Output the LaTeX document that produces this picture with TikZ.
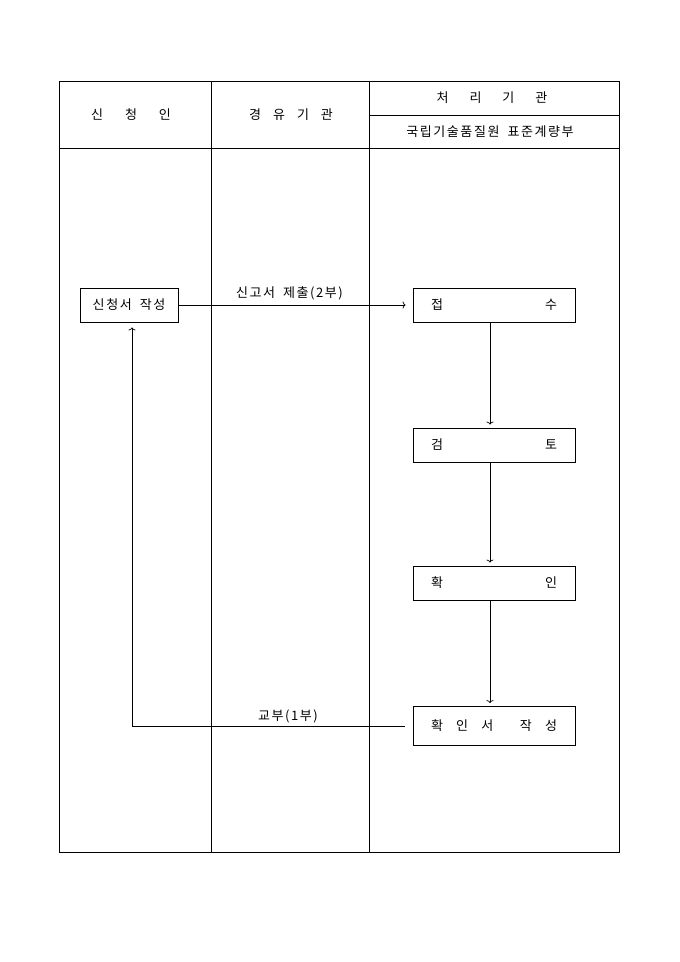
\documentclass[tikz,border=0pt]{standalone}
\usepackage{fontspec}
\setmainfont[LetterSpace=12, WordSpace=1.8]{Noto Sans CJK KR}
\usetikzlibrary{positioning, arrows.meta}

\tikzset{
  frame/.style={line width=0.8pt},
  stepbox/.style={draw, line width=0.8pt, minimum height=34pt, inner sep=0pt, align=center},
  flow/.style={-{To[length=3pt, width=7pt]}, line width=0.7pt},
  label/.style={font=\fontsize{13}{15}\selectfont}
}

\begin{document}
\begin{tikzpicture}[x=1pt, y=-1pt, every node/.style={font=\fontsize{13}{15}\selectfont}]

\useasboundingbox (0,0) rectangle (680,962);

% Table frame and columns
\draw[frame] (59,81) rectangle (619,852);
\draw[frame] (211,81) -- (211,852);
\draw[frame] (369,81) -- (369,852);
\draw[frame] (59,148) -- (619,148);
\draw[frame] (369,115) -- (619,115);

% Column headers
\node (hdA) at (131,115) {신\hspace{22pt}청\hspace{22pt}인};
\node (hdB) at (291,115) {경\hspace{12pt}유\hspace{12pt}기\hspace{12pt}관};
\node (hdC) at (492,98) {처\hspace{21pt}리\hspace{21pt}기\hspace{21pt}관};
\node (hdD) at (490,132) {국립기술품질원 표준계량부};

% Steps
\node[stepbox, minimum width=98pt] (sincheong) at (129,305) {신청서 작성};
\node[stepbox, minimum width=162pt, text width=126pt] (jeopsu) at (494,305) {접\hfill 수};
\node[stepbox, minimum width=162pt, text width=126pt] (geomto) at (494,445) {검\hfill 토};
\node[stepbox, minimum width=162pt, text width=126pt] (hwagin) at (494,583) {확\hfill 인};
\node[stepbox, minimum width=162pt, text width=126pt, minimum height=39pt] (hwaginseo) at (494,726)
  {확\hfill 인\hfill 서\hfill\hfill 작\hfill 성};

% Connectors
\draw[flow, shorten >=7pt] (sincheong.east) -- (jeopsu.west)
  node[label, midway, above=1pt, xshift=-6pt] (submit) {신고서 제출(2부)};
\draw[flow, shorten >=3pt] ([xshift=-4pt]jeopsu.south) -- ([xshift=-4pt]geomto.north);
\draw[flow, shorten >=3pt] ([xshift=-4pt]geomto.south) -- ([xshift=-4pt]hwagin.north);
\draw[flow, shorten >=3pt] ([xshift=-4pt]hwagin.south) -- ([xshift=-4pt]hwaginseo.north);
\draw[flow, shorten <=8pt, shorten >=5pt] (hwaginseo.west) -| ([xshift=3pt]sincheong.south);
\node[label] (issue) at (288,716) {교부(1부)};

\end{tikzpicture}
\end{document}
